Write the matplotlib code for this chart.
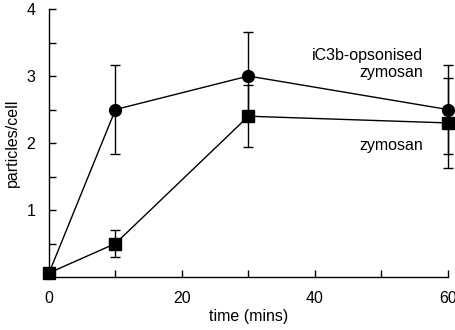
import matplotlib
matplotlib.use('Agg')
import matplotlib.pyplot as plt

plt.rcParams['font.family'] = ['Liberation Sans', 'DejaVu Sans']

time = [0, 10, 30, 60]
opsonised = [0.06, 2.5, 3.0, 2.5]
opsonised_err = [0, 0.67, 0.65, 0.66]
zymosan = [0.06, 0.5, 2.4, 2.3]
zymosan_err = [0, 0.2, 0.46, 0.67]

fig = plt.figure(figsize=(4.56, 3.30), dpi=100)
ax = fig.add_axes([0.1075, 0.1606, 0.8745, 0.812])

ax.errorbar(time, opsonised, yerr=opsonised_err, fmt='o-', color='black',
            markersize=8.5, linewidth=1, elinewidth=1, capsize=3.6, capthick=1,
            clip_on=False, zorder=3)
ax.errorbar(time, zymosan, yerr=zymosan_err, fmt='s-', color='black',
            markersize=8, linewidth=1, elinewidth=1, capsize=3.6, capthick=1,
            clip_on=False, zorder=4)

ax.text(56.3, 3.18, 'iC3b-opsonised\nzymosan', ha='right', va='center',
        fontsize=11.5, linespacing=1.15)
ax.text(56.3, 1.97, 'zymosan', ha='right', va='center', fontsize=11.5)

ax.set_xlim(0, 60)
ax.set_ylim(0, 4)
ax.set_xticks(range(0, 61, 10))
ax.set_xticklabels(['0', '', '20', '', '40', '', '60'])
yt = [0.5 * i for i in range(1, 9)]
ax.set_yticks(yt)
ax.set_yticklabels([str(int(v)) if v == int(v) else '' for v in yt])
ax.tick_params(direction='in', length=5, width=1, labelsize=11.5, pad=10)

for s in ['top', 'right']:
    ax.spines[s].set_visible(False)
for s in ['left', 'bottom']:
    ax.spines[s].set_linewidth(1)

ax.set_xlabel('time (mins)', fontsize=11.5)
ax.set_ylabel('particles/cell', fontsize=11.5)
ax.xaxis.set_label_coords(0.5, -0.149)
ax.yaxis.set_label_coords(-0.093, 0.5)
ax.xaxis.label.set_va('center')
ax.yaxis.label.set_va('center')

fig.savefig('out.png', dpi=100)
